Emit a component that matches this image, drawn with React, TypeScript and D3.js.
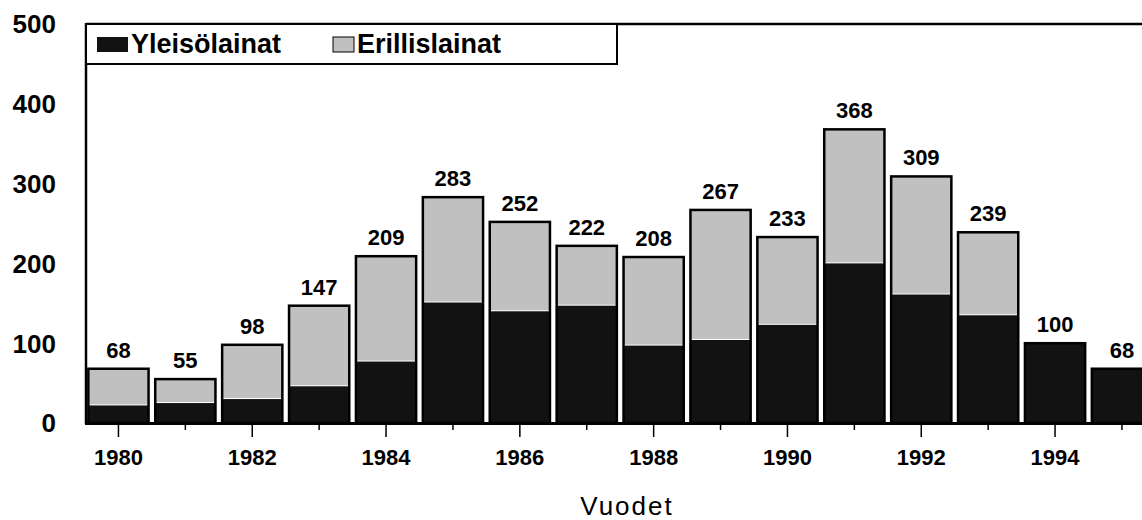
import React from "react";
import * as d3 from "d3";

// vuodet ja lainat (milj.)
const years = [1980, 1981, 1982, 1983, 1984, 1985, 1986, 1987, 1988, 1989, 1990, 1991, 1992, 1993, 1994, 1995];
const yleiso = [22, 25, 30, 46, 77, 151, 140, 147, 97, 104, 123, 200, 161, 135, 100, 68];
const totals = [68, 55, 98, 147, 209, 283, 252, 222, 208, 267, 233, 368, 309, 239, 100, 68];
const yTicks = [0, 100, 200, 300, 400, 500];
const seriesNames = ["Yleisölainat", "Erillislainat"];

const W = 1142;
const H = 520;
const DARK = "#121212";
const LIGHT = "#c0c0c0";
const FONT = "'Liberation Sans', Arial, sans-serif";

export default function App() {
  const x = d3.scaleBand<number>()
    .domain(years)
    .range([85, 85 + 16 * 66.9])
    .paddingInner(0.1)
    .paddingOuter(0.05);

  const y = d3.scaleLinear().domain([0, 500]).range([423, 24]);

  const bw = x.bandwidth();

  return (
    <svg width={W} height={H} style={{ position: "absolute", left: 0, top: 0, background: "#fff" }} fontFamily={FONT}>
      {/* bars */}
      {years.map((yr, i) => {
        const x0 = x(yr)!;
        const total = totals[i];
        const dark = yleiso[i];
        return (
          <g key={yr}>
            <rect x={x0} y={y(dark)} width={bw} height={y(0) - y(dark)} fill={DARK} />
            {total > dark && (
              <rect x={x0} y={y(total)} width={bw} height={y(dark) - y(total) - 1} fill={LIGHT} />
            )}
            <rect x={x0} y={y(total)} width={bw} height={y(0) - y(total)} fill="none" stroke="#000" strokeWidth={2.5} />
            <text x={x0 + bw / 2} y={y(total) - 11} textAnchor="middle" fontSize={22} fontWeight="bold" fill="#000">
              {total}
            </text>
          </g>
        );
      })}

      {/* frame */}
      <line x1={86} x2={W} y1={24} y2={24} stroke="#000" strokeWidth={2.5} />
      <line x1={86} x2={86} y1={23} y2={424} stroke="#000" strokeWidth={2.5} />
      <line x1={85} x2={W} y1={423.5} y2={423.5} stroke="#000" strokeWidth={3} />

      {/* x ticks + labels */}
      {years.map((yr, i) => {
        const cx = x(yr)! + bw / 2;
        return (
          <g key={"t" + yr}>
            <line x1={cx} x2={cx} y1={424} y2={i % 2 === 0 ? 437 : 430} stroke="#000" strokeWidth={1.5} />
            {i % 2 === 0 && (
              <text x={cx} y={465} textAnchor="middle" fontSize={22} fontWeight="bold" fill="#000">
                {yr}
              </text>
            )}
          </g>
        );
      })}

      {/* y labels */}
      {yTicks.map((t) => (
        <text key={t} x={56} y={y(t)} dy="0.36em" textAnchor="end" fontSize={26} fontWeight="bold" fill="#000">
          {t}
        </text>
      ))}

      {/* axis title */}
      <text x={627} y={515} textAnchor="middle" fontSize={26} letterSpacing={2} fill="#000">
        Vuodet
      </text>

      {/* legend */}
      <rect x={86} y={24} width={531} height={40} fill="#fff" stroke="#000" strokeWidth={2} />
      <rect x={97} y={37} width={31} height={15} fill={DARK} />
      <text x={131} y={53} fontSize={27} fontWeight="bold" fill="#000">{seriesNames[0]}</text>
      <rect x={333} y={37} width={21} height={15} fill={LIGHT} stroke="#000" strokeWidth={1} />
      <text x={357} y={53} fontSize={27} fontWeight="bold" fill="#000">{seriesNames[1]}</text>
    </svg>
  );
}
